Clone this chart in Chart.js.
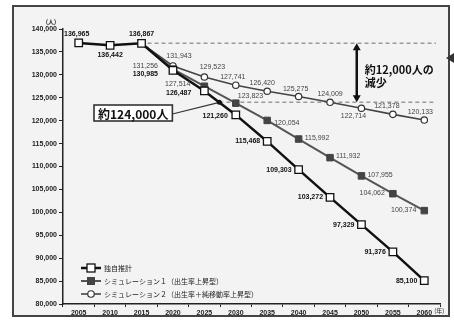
<!DOCTYPE html>
<html>
<head>
<meta charset="utf-8">
<script src="https://cdn.jsdelivr.net/npm/chart.js@4.4.1/dist/chart.umd.min.js"></script>
<style>
  html, body { margin: 0; padding: 0; background: #fff; }
  #wrap { width: 454px; height: 321px; }
</style>
</head>
<body>
<div id="wrap"><canvas id="popChart" width="454" height="321"></canvas></div>
<script>
// data
const years = ["2005", "2010", "2015", "2020", "2025", "2030", "2035", "2040", "2045", "2050", "2055", "2060"]
const ownEstimate = [136965, 136442, 136867, 130985, 126487, 121260, 115468, 109303, 103272, 97329, 91376, 85100]
const sim1 = [null, null, 136867, 131256, 127514, 123823, 120054, 115992, 111932, 107955, 104062, 100374]
const sim2 = [null, null, 136867, 131943, 129523, 127741, 126420, 125275, 124009, 122714, 121378, 120133]
const seriesNames = ["独自推計", "シミュレーション１（出生率上昇型）", "シミュレーション２（出生率＋純移動率上昇型）"]
const yMin = 80000
const yMax = 140000
const yStep = 5000
const targetLevel = 124000
const boxText = "約124,000人"
const gapText = ["約12,000人の", "減少"]

// label placement per point: [align, dx, dy]
const ownLabelPos = [
  ["c", -2, -9], ["c", 0, 10], ["c", 0, -9], ["r", -15, 4], ["r", -13, 2], ["r", -8, 1],
  ["r", -7, 0], ["r", -7, 0], ["r", -7, 0], ["r", -7, 0], ["r", -7, 0], ["r", -7, 0],
]
const sim1LabelPos = [
  null, null, null, ["r", -15, -3], ["r", -14, -2], ["l", 2, -7],
  ["l", 7, 3], ["l", 6, -1], ["l", 6, -2], ["l", 6, -1], ["r", -8, -1], ["r", -8, -1],
]
const sim2LabelPos = [
  null, null, null, ["c", 6, -10], ["c", 8, -10], ["c", -3, -8],
  ["c", -5, -8], ["c", -3, -7], ["c", 0, -8], ["c", -8, 8], ["c", -6, -8], ["c", -4, -8],
]

const numFont = "'Liberation Sans', Arial, sans-serif"
const jpFont = "'Noto Sans CJK JP', sans-serif"

const fmt = (v) => v.toLocaleString("en-US")

function drawMarker(ctx, ds, x, y) {
  ctx.save()
  ctx.lineWidth = ds.pointBorderWidth
  ctx.strokeStyle = ds.pointBorderColor
  ctx.fillStyle = ds.pointBackgroundColor
  if (ds.pointStyle === "rect") {
    const s = ds.legendSize
    ctx.fillRect(x - s / 2, y - s / 2, s, s)
    ctx.strokeRect(x - s / 2, y - s / 2, s, s)
  } else {
    ctx.beginPath()
    ctx.arc(x, y, ds.legendSize / 2, 0, Math.PI * 2)
    ctx.fill()
    ctx.stroke()
  }
  ctx.restore()
}

const framePlugin = {
  id: "frame",
  beforeDraw(chart) {
    const ctx = chart.ctx
    ctx.save()
    ctx.fillStyle = "#ffffff"
    ctx.fillRect(0, 0, chart.width, chart.height)
    ctx.fillStyle = "#f3f3f3"
    ctx.fillRect(13, 6, 436, 310)
    ctx.strokeStyle = "#444"
    ctx.lineWidth = 2
    ctx.strokeRect(13, 6, 436, 310)
    // small arrow at right edge
    ctx.fillStyle = "#333"
    ctx.beginPath()
    ctx.moveTo(446, 58)
    ctx.lineTo(454, 53)
    ctx.lineTo(454, 63)
    ctx.closePath()
    ctx.fill()
    ctx.restore()
  },
}

const annotationPlugin = {
  id: "notes",
  beforeDatasetsDraw(chart) {
    const ctx = chart.ctx
    const xs = chart.scales.x
    const ys = chart.scales.y
    const right = chart.chartArea.right - 4
    const yTop = ys.getPixelForValue(ownEstimate[2])
    const yLow = ys.getPixelForValue(targetLevel)
    // crossing of own estimate with target level
    const f = (ownEstimate[4] - targetLevel) / (ownEstimate[4] - ownEstimate[5])
    const xCross = xs.getPixelForValue(4) + f * (xs.getPixelForValue(5) - xs.getPixelForValue(4))
    chart.$cross = { x: xCross, y: yLow }
    ctx.save()
    ctx.strokeStyle = "#9a9a9a"
    ctx.lineWidth = 1.5
    ctx.setLineDash([4, 3])
    ctx.beginPath()
    ctx.moveTo(xs.getPixelForValue(2) + 6, yTop)
    ctx.lineTo(right, yTop)
    ctx.moveTo(xCross, yLow)
    ctx.lineTo(right, yLow)
    ctx.stroke()
    ctx.restore()
  },
  afterDatasetsDraw(chart) {
    const ctx = chart.ctx
    const xs = chart.scales.x
    const ys = chart.scales.y
    const cross = chart.$cross

    // data labels
    const sets = [
      { data: ownEstimate, pos: ownLabelPos, font: "bold 7px " + numFont, color: "#111" },
      { data: sim1, pos: sim1LabelPos, font: "7px " + numFont, color: "#444" },
      { data: sim2, pos: sim2LabelPos, font: "7px " + numFont, color: "#444" },
    ]
    ctx.save()
    ctx.textBaseline = "middle"
    sets.forEach((s) => {
      ctx.font = s.font
      ctx.fillStyle = s.color
      s.data.forEach((v, i) => {
        const p = s.pos[i]
        if (v === null || !p) return
        const x = xs.getPixelForValue(i) + p[1]
        const y = ys.getPixelForValue(v) + p[2]
        ctx.textAlign = p[0] === "r" ? "right" : p[0] === "l" ? "left" : "center"
        ctx.fillText(fmt(v), x, y)
      })
    })
    ctx.restore()

    // pointer box
    ctx.save()
    ctx.font = "bold 12px " + jpFont
    const tw = ctx.measureText(boxText).width
    const bx = 94, by = 105, bw = tw + 8, bh = 16
    ctx.strokeStyle = "#333"
    ctx.lineWidth = 1.2
    ctx.beginPath()
    ctx.moveTo(bx + bw, by + bh / 2 + 1)
    ctx.lineTo(cross.x, cross.y)
    ctx.stroke()
    ctx.fillStyle = "#111"
    ctx.beginPath()
    ctx.arc(cross.x, cross.y, 2.5, 0, Math.PI * 2)
    ctx.fill()
    ctx.fillStyle = "#fff"
    ctx.fillRect(bx, by, bw, bh)
    ctx.lineWidth = 1.6
    ctx.strokeRect(bx, by, bw, bh)
    ctx.fillStyle = "#111"
    ctx.textBaseline = "middle"
    ctx.textAlign = "left"
    ctx.fillText(boxText, bx + 4, by + bh / 2 + 1)
    ctx.restore()

    // double arrow
    const ax = (xs.getPixelForValue(8) + xs.getPixelForValue(9)) / 2 + 11
    const yTop = ys.getPixelForValue(ownEstimate[2])
    const yLow = ys.getPixelForValue(targetLevel)
    ctx.save()
    ctx.strokeStyle = "#111"
    ctx.fillStyle = "#111"
    ctx.lineWidth = 2.5
    ctx.beginPath()
    ctx.moveTo(ax, yTop + 5)
    ctx.lineTo(ax, yLow - 5)
    ctx.stroke()
    ctx.beginPath()
    ctx.moveTo(ax, yTop)
    ctx.lineTo(ax - 4, yTop + 7)
    ctx.lineTo(ax + 4, yTop + 7)
    ctx.closePath()
    ctx.moveTo(ax, yLow)
    ctx.lineTo(ax - 4, yLow - 7)
    ctx.lineTo(ax + 4, yLow - 7)
    ctx.closePath()
    ctx.fill()
    ctx.font = "bold 11px " + jpFont
    ctx.textAlign = "left"
    ctx.textBaseline = "middle"
    ctx.fillText(gapText[0], ax + 8, yTop + 26)
    ctx.fillText(gapText[1], ax + 8, yTop + 39)
    ctx.restore()

    // axis unit labels
    ctx.save()
    ctx.fillStyle = "#222"
    ctx.font = "bold 6px " + jpFont
    ctx.textAlign = "center"
    ctx.textBaseline = "middle"
    ctx.fillText("(人)", 51, 22)
    ctx.textAlign = "left"
    ctx.font = "6px " + jpFont
    ctx.fillText("(年)", xs.getPixelForValue(11) + 10, 311)
    ctx.restore()

    // legend
    ctx.save()
    const rows = [268, 281, 294]
    chart.data.datasets.forEach((ds, i) => {
      const y = rows[i]
      ctx.strokeStyle = ds.borderColor
      ctx.lineWidth = ds.borderWidth
      ctx.beginPath()
      ctx.moveTo(81, y)
      ctx.lineTo(101, y)
      ctx.stroke()
      drawMarker(ctx, ds, 91, y)
      ctx.fillStyle = "#222"
      ctx.font = "7px " + jpFont
      ctx.textAlign = "left"
      ctx.textBaseline = "middle"
      ctx.fillText(seriesNames[i], 104, y)
    })
    ctx.restore()
  },
}

const hideFirst = (r) => (c) => (c.dataIndex === 2 ? 0 : r)

const ctx = document.getElementById("popChart").getContext("2d")
new Chart(ctx, {
  type: "line",
  data: {
    labels: years,
    datasets: [
      {
        label: seriesNames[0],
        data: ownEstimate,
        borderColor: "#111",
        borderWidth: 2.5,
        pointStyle: "rect",
        pointRadius: 5.3,
        pointBackgroundColor: "#fff",
        pointBorderColor: "#111",
        pointBorderWidth: 1.3,
        legendSize: 8,
        tension: 0,
      },
      {
        label: seriesNames[1],
        data: sim1,
        borderColor: "#555",
        borderWidth: 2,
        pointStyle: "rect",
        pointRadius: hideFirst(4.6),
        pointBackgroundColor: "#444",
        pointBorderColor: "#444",
        pointBorderWidth: 1,
        legendSize: 7,
        tension: 0,
      },
      {
        label: seriesNames[2],
        data: sim2,
        borderColor: "#444",
        borderWidth: 1.6,
        pointStyle: "circle",
        pointRadius: hideFirst(3.2),
        pointBackgroundColor: "#fff",
        pointBorderColor: "#333",
        pointBorderWidth: 1.2,
        legendSize: 6.5,
        tension: 0,
      },
    ],
  },
  options: {
    responsive: false,
    animation: false,
    layout: { padding: { top: 29, right: 14, left: 0, bottom: 0 } },
    plugins: {
      legend: { display: false },
      tooltip: { enabled: false },
    },
    scales: {
      x: {
        offset: true,
        afterFit: (s) => { s.height = 17 },
        border: { color: "#222", width: 1.5 },
        grid: { offset: true, drawOnChartArea: false, tickLength: 3, color: "#222" },
        ticks: { color: "#222", padding: 2, maxRotation: 0, font: { family: numFont, size: 7, weight: "bold" } },
      },
      y: {
        min: yMin,
        max: yMax,
        afterFit: (s) => { s.width = 63 },
        border: { color: "#222", width: 1.5 },
        grid: { drawOnChartArea: false, tickLength: 4, color: "#222" },
        ticks: {
          stepSize: yStep,
          color: "#222",
          padding: 2,
          font: { family: numFont, size: 7, weight: "bold" },
          callback: (v) => fmt(v),
        },
      },
    },
  },
  plugins: [framePlugin, annotationPlugin],
})
</script>
</body>
</html>
